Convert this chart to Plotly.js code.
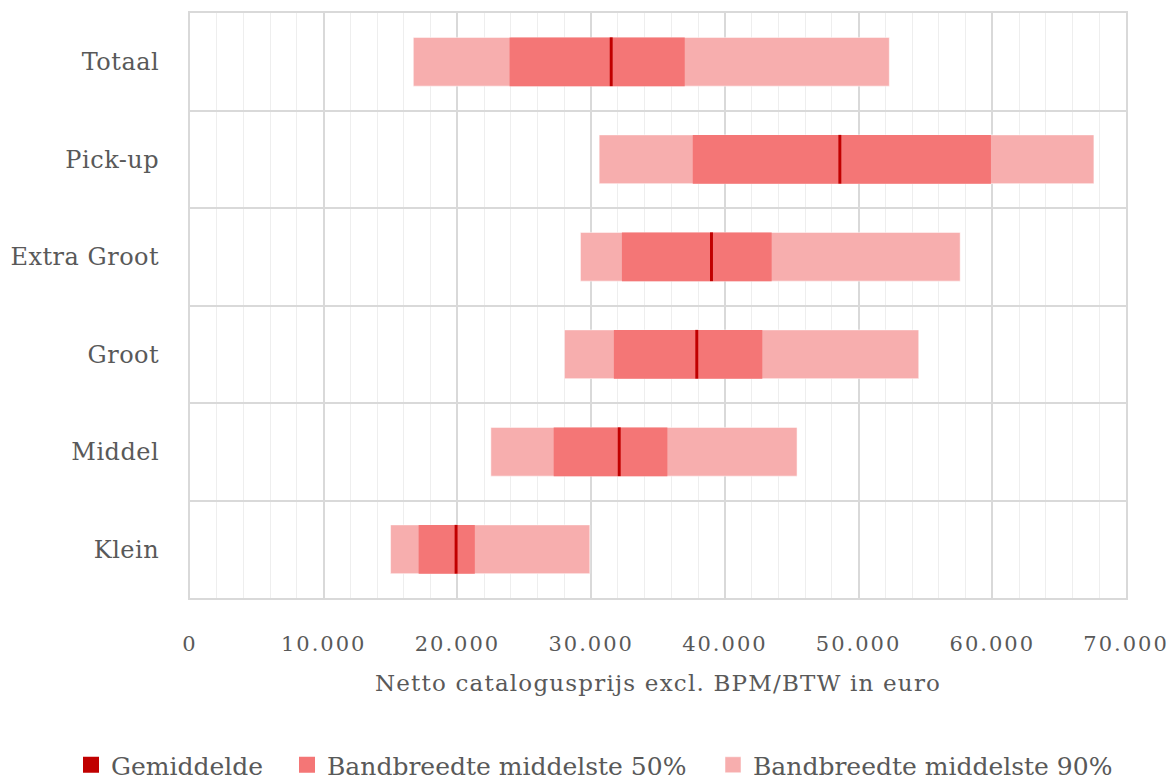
<!DOCTYPE html>
<html>
<head>
<meta charset="utf-8">
<script src="https://cdn.plot.ly/plotly-3.0.1.min.js"></script>
<style>
html,body{margin:0;padding:0;background:#fff;}
#chart{width:1175px;height:780px;}
.xtick text{letter-spacing:2px;}
.ytick text{letter-spacing:0.5px;}
.xtitle{letter-spacing:1.2px;}
.legendpoints path{d:path("M8,8H-8V-8H8Z");}
</style>
</head>
<body>
<div id="chart"></div>
<script>
// Data
const categories = ["Totaal", "Pick-up", "Extra Groot", "Groot", "Middel", "Klein"];
const p5  = [16700, 30600, 29200, 28000, 22500, 15000];
const p25 = [23900, 37600, 32300, 31700, 27200, 17100];
const gemiddelde = [31500, 48600, 39000, 37900, 32100, 19900];
const p75 = [37000, 59900, 43500, 42800, 35700, 21300];
const p95 = [52300, 67600, 57600, 54500, 45400, 29900];
const seriesNames = ["Gemiddelde", "Bandbreedte middelste 50%", "Bandbreedte middelste 90%"];

const meanHalf = 110;
const FONT = "DejaVu Serif";
const TXT = "#595959";

const traces = [
  {
    type: "bar", orientation: "h", name: seriesNames[2], legend: "legend3",
    y: categories, base: p5, x: p95.map((v, i) => v - p5[i]),
    marker: {color: "#F7AEAE", line: {color: "rgba(255,255,255,0.5)", width: 1}},
    width: 0.5, hoverinfo: "skip"
  },
  {
    type: "bar", orientation: "h", name: seriesNames[1], legend: "legend2",
    y: categories, base: p25, x: p75.map((v, i) => v - p25[i]),
    marker: {color: "#F47676", line: {width: 0}},
    width: 0.5, hoverinfo: "skip"
  },
  {
    type: "bar", orientation: "h", name: seriesNames[0], legend: "legend",
    y: categories, base: gemiddelde.map(v => v - meanHalf), x: gemiddelde.map(() => 2 * meanHalf),
    marker: {color: "#C00000", line: {width: 0}},
    width: 0.5, hoverinfo: "skip"
  }
];

function legendAt(px) {
  return {
    orientation: "h", xref: "container", yref: "container",
    x: px / 1175, xanchor: "left", y: 15 / 780, yanchor: "middle",
    font: {family: FONT, size: 25, color: TXT},
    bgcolor: "rgba(0,0,0,0)", itemwidth: 30
  };
}

const layout = {
  width: 1175, height: 780,
  margin: {l: 190, r: 49, t: 13, b: 182},
  paper_bgcolor: "#fff", plot_bgcolor: "#fff",
  barmode: "overlay",
  separators: ",.",
  font: {family: FONT, color: TXT, size: 22},
  showlegend: true,
  legend: legendAt(71),
  legend2: legendAt(287),
  legend3: legendAt(713),
  xaxis: {
    range: [0, 70000], dtick: 10000, tick0: 0,
    tickformat: ",d",
    showgrid: true, gridcolor: "#d9d9d9", gridwidth: 2,
    minor: {dtick: 2000, showgrid: true, gridcolor: "#eeeeee", gridwidth: 1},
    zeroline: false,
    showline: true, linecolor: "#d9d9d9", linewidth: 2, mirror: true,
    ticks: "", ticklabelstandoff: 26,
    tickfont: {family: FONT, size: 21, color: TXT},
    title: {text: "Netto catalogusprijs excl. BPM/BTW in euro", font: {family: FONT, size: 23, color: TXT}, standoff: 20},
    fixedrange: true
  },
  yaxis: {
    type: "category", autorange: "reversed",
    tickson: "boundaries",
    showgrid: true, gridcolor: "#d9d9d9", gridwidth: 2,
    showline: true, linecolor: "#d9d9d9", linewidth: 2, mirror: true,
    ticks: "", ticklabelstandoff: 24,
    tickfont: {family: FONT, size: 24, color: TXT},
    fixedrange: true
  }
};

Plotly.newPlot("chart", traces, layout, {displayModeBar: false, staticPlot: true});
</script>
</body>
</html>
